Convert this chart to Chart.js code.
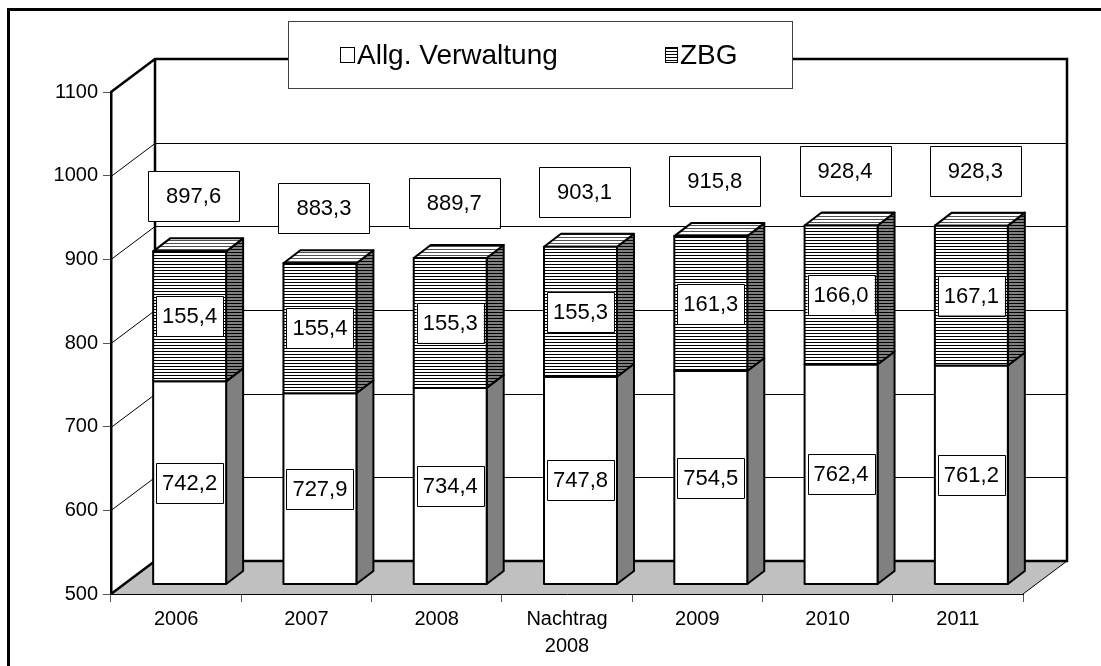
<!DOCTYPE html>
<html>
<head>
<meta charset="utf-8">
<script src="https://cdn.jsdelivr.net/npm/chart.js@4.4.0/dist/chart.umd.min.js"></script>
<style>
  body { margin: 0; background: #fff; }
  #wrap { width: 1101px; height: 666px; }
</style>
</head>
<body>
<div id="wrap"><canvas id="chart" width="1101" height="666"></canvas></div>
<script>
// data
var categories = ['2006', '2007', '2008', ['Nachtrag', '2008'], '2009', '2010', '2011'];
var allgVerwaltung = [742.2, 727.9, 734.4, 747.8, 754.5, 762.4, 761.2];
var zbg = [155.4, 155.4, 155.3, 155.3, 161.3, 166.0, 167.1];
var yTicks = [500, 600, 700, 800, 900, 1000, 1100];

var FONT = "'Liberation Sans', Arial, sans-serif";
// depth of the 3d box and of the bars
var DX = 44, DY = 33;
var BDX = 17, BDY = 13;
var OX = 13.5, OY = -10;

var ctx = document.getElementById('chart').getContext('2d');

function hatch(bg, line) {
    var c = document.createElement('canvas');
    c.width = 4; c.height = 3;
    var x = c.getContext('2d');
    x.fillStyle = bg; x.fillRect(0, 0, 4, 3);
    x.fillStyle = line; x.fillRect(0, 0, 4, 1);
    return ctx.createPattern(c, 'repeat');
}
var hatchFront = hatch('#ffffff', '#000000');
var hatchSide = hatch('#808080', '#000000');
var hatchTop = hatch('#ffffff', '#505050');

function fmt(v) { return v.toFixed(1).replace('.', ','); }

function labelBox(c, text, cx, cy, padX, h) {
    c.font = '22px ' + FONT;
    var w = c.measureText(text).width + padX * 2;
    c.fillStyle = '#fff';
    c.fillRect(cx - w / 2, cy - h / 2, w, h);
    c.strokeStyle = '#000';
    c.lineWidth = 1;
    c.strokeRect(Math.round(cx - w / 2) + 0.5, Math.round(cy - h / 2) + 0.5, Math.round(w), h);
    c.fillStyle = '#000';
    c.textAlign = 'center';
    c.textBaseline = 'middle';
    c.fillText(text, cx, cy + 1);
}

function drawSegment(c, el, floorY, front, side, top) {
    var p = el.getProps(['x', 'y', 'base', 'width'], true);
    var x1 = p.x - p.width / 2 + OX, x2 = p.x + p.width / 2 + OX;
    var yt = p.y + OY, yb = Math.min(p.base, floorY) + OY;
    c.lineWidth = 2;
    c.strokeStyle = '#000';
    c.lineJoin = 'round';
    // side
    c.fillStyle = side;
    c.beginPath();
    c.moveTo(x2, yb); c.lineTo(x2, yt); c.lineTo(x2 + BDX, yt - BDY); c.lineTo(x2 + BDX, yb - BDY); c.closePath();
    c.fill(); c.stroke();
    // top
    if (top) {
        c.fillStyle = top;
        c.beginPath();
        c.moveTo(x1, yt); c.lineTo(x2, yt); c.lineTo(x2 + BDX, yt - BDY); c.lineTo(x1 + BDX, yt - BDY); c.closePath();
        c.fill(); c.stroke();
    }
    // front
    c.fillStyle = front;
    c.fillRect(x1, yt, x2 - x1, yb - yt);
    c.strokeRect(x1, yt, x2 - x1, yb - yt);
    return { cx: (x1 + x2) / 2, cy: (yt + yb) / 2, top: yt };
}

var box3d = {
    id: 'box3d',
    beforeDraw: function (chart) {
        var c = chart.ctx, a = chart.chartArea, ys = chart.scales.y;
        c.save();
        c.fillStyle = '#fff';
        c.fillRect(0, 0, chart.width, chart.height);
        // floor
        c.fillStyle = '#c0c0c0';
        c.beginPath();
        c.moveTo(a.left, a.bottom); c.lineTo(a.right, a.bottom);
        c.lineTo(a.right + DX, a.bottom - DY); c.lineTo(a.left + DX, a.bottom - DY);
        c.closePath(); c.fill();
        c.strokeStyle = '#000';
        c.lineWidth = 1;
        c.beginPath();
        c.moveTo(a.right, a.bottom); c.lineTo(a.right + DX, a.bottom - DY);
        c.stroke();
        // gridlines on the walls
        ys.ticks.forEach(function (t) {
            if (t.value <= ys.min || t.value >= ys.max) return;
            var y = Math.round(ys.getPixelForValue(t.value)) + 0.5;
            c.beginPath();
            c.moveTo(a.left, y); c.lineTo(a.left + DX, y - DY); c.lineTo(a.right + DX, y - DY);
            c.stroke();
        });
        // wall edges
        c.lineWidth = 2.5;
        c.beginPath();
        c.moveTo(a.left, a.top); c.lineTo(a.left + DX, a.top - DY);
        c.lineTo(a.right + DX, a.top - DY); c.lineTo(a.right + DX, a.bottom - DY);
        c.lineTo(a.left + DX, a.bottom - DY); c.lineTo(a.left, a.bottom);
        c.moveTo(a.left + DX, a.top - DY); c.lineTo(a.left + DX, a.bottom - DY);
        c.stroke();
        c.restore();
    },
    afterDatasetsDraw: function (chart) {
        var c = chart.ctx, ys = chart.scales.y;
        var floorY = ys.getPixelForValue(ys.min);
        var m0 = chart.getDatasetMeta(0), m1 = chart.getDatasetMeta(1);
        c.save();
        for (var i = 0; i < categories.length; i++) {
            var s0 = drawSegment(c, m0.data[i], floorY, '#ffffff', '#808080', null);
            var s1 = drawSegment(c, m1.data[i], floorY, hatchFront, hatchSide, hatchTop);
            labelBox(c, fmt(allgVerwaltung[i]), s0.cx, s0.cy, 6, 40);
            labelBox(c, fmt(zbg[i]), s1.cx, s1.cy, 6, 40);
            var total = allgVerwaltung[i] + zbg[i];
            labelBox(c, fmt(total), s1.cx + 4, ys.getPixelForValue(total) + OY - 55, 18, 50);
        }
        c.restore();
    },
    afterDraw: function (chart) {
        var c = chart.ctx;
        c.save();
        // legend
        c.fillStyle = '#fff';
        c.fillRect(288, 21, 504, 67);
        c.strokeStyle = '#404040';
        c.lineWidth = 1;
        c.strokeRect(288.5, 21.5, 504, 67);
        c.font = '28px ' + FONT;
        c.textBaseline = 'middle';
        c.textAlign = 'left';
        c.fillStyle = '#fff';
        c.fillRect(340, 47, 14, 15);
        c.strokeStyle = '#000';
        c.strokeRect(340.5, 47.5, 14, 15);
        c.fillStyle = '#000';
        c.fillText(chart.data.datasets[0].label, 357, 56);
        c.fillStyle = hatchFront;
        c.fillRect(665, 47, 12, 15);
        c.strokeRect(665.5, 47.5, 12, 15);
        c.fillStyle = '#000';
        c.fillText(chart.data.datasets[1].label, 680, 56);
        // outer frame
        c.lineWidth = 3;
        c.strokeStyle = '#000';
        c.strokeRect(8.5, 9.5, 1200, 700);
        c.restore();
    }
};

var chart = new Chart(ctx, {
    type: 'bar',
    data: {
        labels: categories,
        datasets: [{
            label: 'Allg. Verwaltung',
            data: allgVerwaltung,
            backgroundColor: 'rgba(0,0,0,0)',
            borderWidth: 0
        }, {
            label: 'ZBG',
            data: zbg,
            backgroundColor: 'rgba(0,0,0,0)',
            borderWidth: 0
        }]
    },
    options: {
        responsive: false,
        animation: false,
        categoryPercentage: 1,
        barPercentage: 0.56,
        layout: {
            padding: { left: 0, right: 78, top: 92, bottom: 0 }
        },
        plugins: {
            legend: { display: false },
            tooltip: { enabled: false }
        },
        scales: {
            x: {
                stacked: true,
                offset: true,
                afterFit: function (scale) { scale.height = 72; },
                grid: { drawOnChartArea: false, offset: true, tickLength: 8, color: '#555' },
                border: { color: '#000', width: 1 },
                ticks: {
                    color: '#000',
                    maxRotation: 0,
                    autoSkip: false,
                    padding: 4,
                    font: { family: FONT, size: 20, lineHeight: 1.35 }
                }
            },
            y: {
                stacked: true,
                min: yTicks[0],
                max: yTicks[yTicks.length - 1],
                afterFit: function (scale) { scale.width = 111; },
                afterBuildTicks: function (scale) {
                    scale.ticks = yTicks.map(function (v) { return { value: v }; });
                },
                grid: { drawOnChartArea: false, tickLength: 8, color: '#555' },
                border: { color: '#000', width: 2.5 },
                ticks: {
                    color: '#000',
                    padding: 5,
                    font: { family: FONT, size: 20 },
                    callback: function (v) { return String(v); }
                }
            }
        }
    },
    plugins: [box3d]
});
</script>
</body>
</html>
